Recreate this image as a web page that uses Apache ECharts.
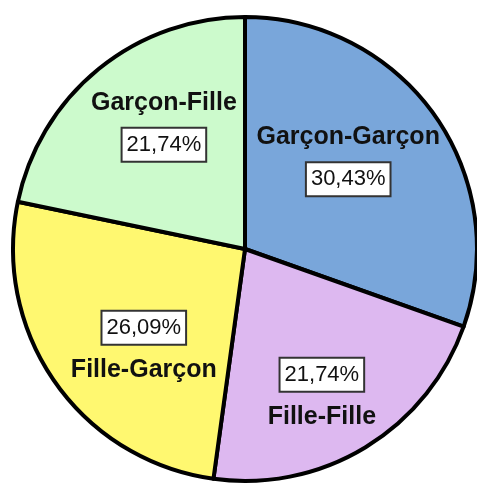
<!DOCTYPE html>
<html>
<head>
<meta charset="utf-8">
<script src="https://cdn.jsdelivr.net/npm/echarts@6/dist/echarts.min.js"></script>
<style>
  html, body { margin: 0; padding: 0; background: #fff; }
  #chart { width: 477px; height: 485px; }
</style>
</head>
<body>
<div id="chart"></div>
<script>
// clockwise from 12 o'clock
const categories = ['Garçon-Garçon', 'Fille-Fille', 'Fille-Garçon', 'Garçon-Fille'];
const percents = [30.43, 21.74, 26.09, 21.74];
const colors = ['#79A6DA', '#DDB8F0', '#FFF870', '#CCFACC'];
// name above the box for the top slices, below it for the bottom ones
const nameFirst = [true, false, false, true];
// nudges of each label block from the default inside spot
const labelShift = [[6, -23], [15, 46], [-4, 32], [-6, -34]];

const chart = echarts.init(document.getElementById('chart'));

const fmt = v => v.toFixed(2).replace('.', ',') + '%';

chart.setOption({
  animation: false,
  backgroundColor: '#fff',
  series: [
    {
      type: 'pie',
      center: [245, 249],
      radius: 232,
      startAngle: 90,
      clockwise: true,
      silent: true,
      data: categories.map((name, i) => ({
        name: name,
        value: percents[i],
        itemStyle: { color: colors[i] }
      })),
      itemStyle: {
        borderColor: '#000',
        borderWidth: 4
      },
      labelLine: { show: false },
      label: {
        show: true,
        position: 'inside',
        formatter: p => {
          const n = '{name|' + p.name + '}';
          const b = '{box|' + fmt(p.value) + '}';
          return nameFirst[p.dataIndex] ? n + '\n{sp|}\n' + b : b + '\n{sp|}\n' + n;
        },
        rich: {
          name: {
            fontFamily: 'Liberation Sans, Arial, sans-serif',
            fontWeight: 'bold',
            fontSize: 25,
            lineHeight: 30,
            color: '#111'
          },
          sp: {
            lineHeight: 14,
            fontSize: 10
          },
          box: {
            fontFamily: 'Liberation Sans, Arial, sans-serif',
            fontSize: 22,
            lineHeight: 26,
            color: '#111',
            backgroundColor: '#fff',
            borderColor: '#333',
            borderWidth: 2,
            padding: [5, 4, 5, 4]
          }
        }
      },
      labelLayout: p => ({
        dx: labelShift[p.dataIndex][0],
        dy: labelShift[p.dataIndex][1]
      })
    }
  ]
});
</script>
</body>
</html>
